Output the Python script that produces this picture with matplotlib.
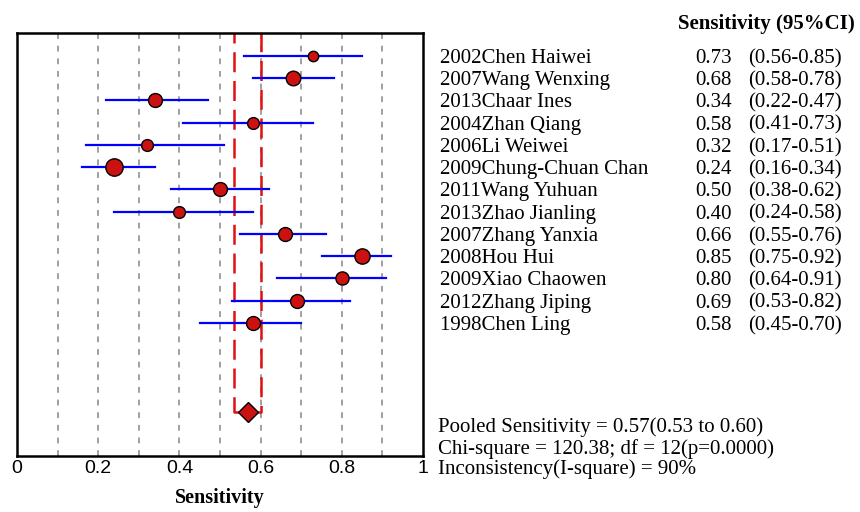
import matplotlib
matplotlib.use("Agg")
import matplotlib.pyplot as plt
import matplotlib.transforms as mtransforms

# study data
studies = ["2002Chen Haiwei", "2007Wang Wenxing", "2013Chaar Ines", "2004Zhan Qiang",
           "2006Li Weiwei", "2009Chung-Chuan Chan", "2011Wang Yuhuan", "2013Zhao Jianling",
           "2007Zhang Yanxia", "2008Hou Hui", "2009Xiao Chaowen", "2012Zhang Jiping",
           "1998Chen Ling"]
sens = [0.73, 0.68, 0.34, 0.58, 0.32, 0.24, 0.50, 0.40, 0.66, 0.85, 0.80, 0.69, 0.58]
ci_lo = [0.56, 0.58, 0.22, 0.41, 0.17, 0.16, 0.38, 0.24, 0.55, 0.75, 0.64, 0.53, 0.45]
ci_hi = [0.85, 0.78, 0.47, 0.73, 0.51, 0.34, 0.62, 0.58, 0.76, 0.92, 0.91, 0.82, 0.70]
weights = [7.5, 10.5, 10, 8.5, 8.5, 12.5, 10, 8.5, 10, 11, 9.5, 10, 10]

pooled = 0.57
pooled_lo = 0.535
pooled_hi = 0.60
stats_lines = ["Pooled Sensitivity = 0.57(0.53 to 0.60)",
               "Chi-square = 120.38; df = 12(p=0.0000)",
               "Inconsistency(I-square) = 90%"]
xticks = [0, 0.2, 0.4, 0.6, 0.8, 1]
xticklabels = ["0", "0.2", "0.4", "0.6", "0.8", "1"]

serif = ["Liberation Serif", "DejaVu Serif"]
fs = 15

fig = plt.figure(figsize=(8.6, 5.12), dpi=100)
ax = fig.add_axes([0.0198, 0.1094, 0.4721, 0.8261])

pooled_row = len(studies) + 3

# grid
for g in [0.1, 0.2, 0.3, 0.4, 0.5, 0.6, 0.7, 0.8, 0.9]:
    ax.axvline(g, color="#a0a0a0", lw=1.4, ls=(0, (3, 3.5)), zorder=1)

# pooled CI bracket
ax.plot([pooled_lo, pooled_lo, pooled_hi, pooled_hi], [-1.5, pooled_row, pooled_row, -1.5],
        color="#e01010", lw=1.8, ls=(0, (8, 3.5)), zorder=2)

rows = list(range(len(studies)))
for i in rows:
    ax.plot([ci_lo[i], ci_hi[i]], [i, i], color="#0000ff", lw=1.6, zorder=3)
    ax.plot(sens[i], i, "o", ms=weights[i], mfc="#cc1111", mec="black", mew=1.0, zorder=4)
ax.plot(pooled, pooled_row, "D", ms=10, mfc="#cc1111", mec="black", mew=1.0, zorder=4)

ax.set_xlim(0, 1)
ax.set_ylim(17.98, -1.03)
ax.set_yticks([])
ax.set_xticks(xticks)
ax.set_xticklabels(xticklabels, fontsize=14, family="Liberation Sans")
ax.tick_params(axis="x", length=0, pad=3)
for s in ax.spines.values():
    s.set_linewidth(1.8)
ax.set_xlabel("Sensitivity", fontsize=14.5, fontweight="bold", family=serif, labelpad=8)

# right-hand table
tr = mtransforms.blended_transform_factory(fig.transFigure, ax.transData)
fig.text(678 / 860, 1 - 22 / 512, "Sensitivity (95%CI)", fontsize=fs, fontweight="bold",
         family=serif, va="center_baseline", ha="left")
for i in rows:
    fig.text(440 / 860, i, studies[i], transform=tr, fontsize=fs, family=serif,
             va="center_baseline")
    fig.text(695 / 860, i, f"{sens[i]:.2f}", transform=tr, fontsize=fs, family=serif,
             va="center_baseline")
    fig.text(748 / 860, i, f"({ci_lo[i]:.2f}-{ci_hi[i]:.2f})", transform=tr, fontsize=fs,
             family=serif, va="center_baseline")

stats_y = [425, 447, 467]
for k, line in enumerate(stats_lines):
    fig.text(438 / 860, 1 - stats_y[k] / 512, line, fontsize=fs, family=serif,
             va="center_baseline")

fig.savefig("out.png", dpi=100)
